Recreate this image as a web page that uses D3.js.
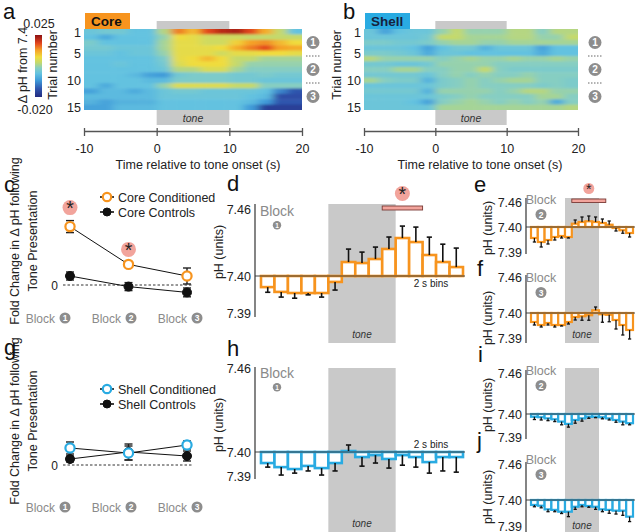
<!DOCTYPE html>
<html>
<head>
<meta charset="utf-8">
<script src="https://cdn.jsdelivr.net/npm/d3@7"></script>
<style>
  body { margin: 0; background: #fff; }
  svg { font-family: "Liberation Sans", Arial, Helvetica, sans-serif; }
</style>
</head>
<body>
<svg id="fig" width="640" height="532"></svg>
<script>
// ---- data ----
var timeTicks = [-10, 0, 10, 20]
var binStarts = [-10, -8, -6, -4, -2, 0, 2, 4, 6, 8, 10, 12, 14, 16, 18]
var trials = [1, 2, 3, 4, 5, 6, 7, 8, 9, 10, 11, 12, 13, 14, 15]
var trialTicks = [1, 5, 10, 15]
var blocks = ["1", "2", "3"]
var phTicks = [7.39, 7.40, 7.46]

// heatmaps: delta pH from 7.4, in thousandths, one row per trial, one column per 2 s bin
var coreHeat = [
  [-2, -1, -1, -3, -3, 4, 16, 12, 19, 22, 23, 19, 13, 5, -3],
  [-3, -6, -3, -3, -3, 2, 9, 8, 6, 6, 6, 5, 5, 5, 5],
  [0, -3, -3, -3, -3, 3, 8, 8, 6, 6, 10, 14, 15, 12, 9],
  [-1, -1, -2, -2, -2, 3, 8, 8, 8, 9, 13, 16, 19, 14, 13],
  [-2, -2, -3, -2, -2, 2, 8, 8, 8, 6, 8, 8, 9, 9, 8],
  [-3, -3, -3, -3, -3, 0, 8, 9, 12, 9, 5, 5, 3, 3, 3],
  [-3, -3, -2, -3, -3, -1, 7, 9, 9, 9, 5, 2, 2, 2, 2],
  [-3, -3, -3, -3, -3, -2, 4, 4, 7, 7, 3, 1, 1, 1, 1],
  [-3, -3, -3, -4, -7, -8, -1, 0, 0, 0, -1, -1, 0, -1, -1],
  [-3, -3, -3, -3, -4, -4, 0, 0, 0, 0, -1, -1, -2, -2, -2],
  [-3, -6, -3, -3, -3, 2, 7, 7, 7, 7, 5, 5, 1, 1, 1],
  [-7, -4, -4, -6, -4, -2, -1, -1, -2, -2, -2, -2, -3, -10, -14],
  [-4, -4, -4, -4, -4, -2, -2, -2, -2, -2, -2, -3, -4, -15, -15],
  [-5, -7, -5, -5, -5, -3, -3, -3, -3, -3, -3, -4, -8, -14, -14],
  [-7, -7, -4, -4, -4, -3, -3, -3, -3, -3, -3, -8, -17, -17, -17]
]
var shellHeat = [
  [-2, -7, -3, -2, -2, 2, 5, 2, 2, 2, 4, 4, 1, 4, 4],
  [-2, -2, -2, -2, -1, 5, 5, 3, 3, 3, 4, 4, 2, 2, 5],
  [0, 0, -1, -1, 0, 2, 3, 3, 2, 2, 3, 3, 3, 3, 3],
  [-2, -2, -2, -3, -7, -3, -1, -1, -5, -2, -2, -2, -7, -3, -3],
  [0, 0, -1, -2, -6, -2, -2, -3, -3, -3, -3, -3, -6, -3, -3],
  [4, 2, 2, 2, 2, 1, 2, 3, 2, 2, 3, 2, 2, 3, 2],
  [-1, -1, -2, -2, -1, 2, 2, 2, 2, 1, 1, 1, 1, 1, 1],
  [1, 1, 3, 3, 1, 1, 2, 2, 5, 1, 0, 0, 0, 0, 0],
  [-1, -1, -1, -1, -2, 1, 2, 1, 2, 1, 1, 2, 1, 1, 1],
  [3, 1, 0, 0, -5, 0, 1, 2, 1, 2, 3, 3, 1, 1, 0],
  [-2, -2, -2, -2, -2, 0, 1, 2, 1, 1, 1, 1, 0, 1, 0],
  [-1, -1, -1, -1, -5, 2, 2, 2, 2, 1, 2, 4, 4, 2, 2],
  [-2, -2, -2, -2, -2, 0, 1, 2, 1, 1, 1, 1, 3, 3, 1],
  [-2, -2, -2, -3, -7, 1, 2, 3, 2, 1, 2, 1, 2, -6, 1],
  [-2, -2, -2, -2, -2, 3, 3, 3, 3, 3, 3, 3, 3, 3, 4]
]
var heatStops = [-20, -14, -8, -3, 1, 5, 9, 14, 19, 25]
var heatColours = ["#232b80", "#2f55ad", "#3f9bd9", "#63c2e0", "#86cec2", "#c4d96c", "#f0dc3c", "#f5a128", "#e3461f", "#8c1012"]

// fold change per block
var coreCond = [2.92, 1.03, 0.45], coreCondErr = [0.3, 0.1, 0.4]
var coreCtrl = [0.45, -0.08, -0.37], coreCtrlErr = [0.2, 0.2, 0.22]
var coreStar = [true, true, false]
var shellCond = [0.85, 0.6, 1.0], shellCondErr = [0.3, 0.35, 0.2]
var shellCtrl = [0.3, 0.65, 0.45], shellCtrlErr = [0.15, 0.4, 0.25]

// pH per 2 s bin
var coreB1 = [7.3970, 7.3957, 7.3954, 7.3954, 7.3954, 7.3984, 7.4125, 7.4116, 7.4152, 7.4242, 7.4340, 7.4304, 7.4188, 7.4125, 7.4080]
var coreB1Err = [0.0014, 0.0014, 0.0014, 0.0005, 0.0011, 0.0022, 0.0116, 0.0098, 0.0107, 0.0107, 0.0107, 0.0134, 0.0160, 0.0160, 0.0170]
var coreB2 = [7.3956, 7.3940, 7.3948, 7.3960, 7.3964, 7.3960, 7.4079, 7.4120, 7.4137, 7.4120, 7.4096, 7.4055, 7.3996, 7.3987, 7.3976]
var coreB2Err = [0.0016, 0.0020, 0.0016, 0.0012, 0.0008, 0.0004, 0.0089, 0.0120, 0.0127, 0.0120, 0.0096, 0.0089, 0.0012, 0.0012, 0.0016]
var coreB3 = [7.3964, 7.3952, 7.3960, 7.3952, 7.3952, 7.3964, 7.3984, 7.3987, 7.3991, 7.4045, 7.3995, 7.3993, 7.3972, 7.3952, 7.3932]
var coreB3Err = [0.0012, 0.0008, 0.0008, 0.0008, 0.0004, 0.0008, 0.0012, 0.0016, 0.0020, 0.0055, 0.0032, 0.0028, 0.0036, 0.0040, 0.0036]
var shellB1 = [7.3954, 7.3937, 7.3929, 7.3942, 7.3933, 7.3954, 7.4007, 7.3979, 7.3987, 7.3971, 7.3987, 7.3979, 7.3958, 7.3979, 7.3979]
var shellB1Err = [0.0017, 0.0033, 0.0017, 0.0021, 0.0029, 0.0033, 0.0043, 0.0038, 0.0033, 0.0038, 0.0042, 0.0042, 0.0046, 0.0058, 0.0063]
var shellB2 = [7.3988, 7.3986, 7.3981, 7.3977, 7.3967, 7.3957, 7.3974, 7.3981, 7.3988, 7.3988, 7.3986, 7.3981, 7.3974, 7.3967, 7.3960]
var shellB2Err = [0.0012, 0.0012, 0.0010, 0.0010, 0.0014, 0.0014, 0.0014, 0.0012, 0.0007, 0.0004, 0.0007, 0.0007, 0.0010, 0.0014, 0.0007]
var shellB3 = [7.3981, 7.3978, 7.3964, 7.3962, 7.3955, 7.3955, 7.3974, 7.3981, 7.3977, 7.3974, 7.3964, 7.3962, 7.3959, 7.3959, 7.3936]
var shellB3Err = [0.0007, 0.0008, 0.0009, 0.0007, 0.0007, 0.0019, 0.0010, 0.0007, 0.0005, 0.0010, 0.0009, 0.0013, 0.0013, 0.0018, 0.0019]
var sigCoreB1 = [8, 14]
var sigCoreB2 = [2, 12]

// ---- drawing ----
var ORANGE = "#f7941e", BLUE = "#29abe2", TONE = "#c9c9c9", CIRC = "#8d8d8d", PINK = "#f2a49c"
var svg = d3.select("#fig")
var defs = svg.append("defs")
var heatColour = d3.scaleLinear().domain(heatStops).range(heatColours)
var plain = function (d) { return String(d) }

function letter(txt, x, y) {
  svg.append("text").attr("x", x).attr("y", y).attr("font-size", 22).attr("fill", "#111").text(txt)
}

function numCircle(g, x, y, r, n) {
  g.append("circle").attr("cx", x).attr("cy", y).attr("r", r).attr("fill", CIRC)
  g.append("text").attr("x", x).attr("y", y + r * 0.55).attr("text-anchor", "middle")
    .attr("font-size", r * 1.55).attr("font-weight", "bold").attr("fill", "#fff").text(n)
}

function star(g, x, y, r) {
  g.append("circle").attr("cx", x).attr("cy", y).attr("r", r).attr("fill", PINK)
  g.append("text").attr("x", x).attr("y", y + r * 1.05).attr("text-anchor", "middle")
    .attr("font-size", r * 2.6).attr("fill", "#222").text("*")
}

// heatmap panels a and b
function drawHeat(o) {
  var t = d3.scaleLinear().domain([-10, 20]).range([o.x0, o.x1])
  var rows = d3.scaleBand().domain(trials).range([29, 110])
  var g = svg.append("g")

  defs.append("clipPath").attr("id", "clip-" + o.id)
    .append("rect").attr("x", o.x0).attr("y", 29).attr("width", o.x1 - o.x0).attr("height", 81)
  var f = defs.append("filter").attr("id", "blur-" + o.id).attr("filterUnits", "userSpaceOnUse")
    .attr("x", o.x0 - 20).attr("y", 10).attr("width", o.x1 - o.x0 + 40).attr("height", 120)
  f.append("feGaussianBlur").attr("stdDeviation", "4.5 1.1").attr("edgeMode", "duplicate")

  var cells = g.append("g").attr("clip-path", "url(#clip-" + o.id + ")")
    .append("g").attr("filter", "url(#blur-" + o.id + ")")
  o.data.forEach(function (row, ri) {
    row.forEach(function (v, ci) {
      var x0 = t(binStarts[ci]), x1 = t(binStarts[ci] + 2)
      // stretch the outer cells so the blur has no empty edge to pull in
      if (ci === 0) x0 -= 12
      if (ci === row.length - 1) x1 += 12
      var y0 = rows(trials[ri]), h = rows.bandwidth()
      if (ri === 0) { y0 -= 6; h += 6 }
      if (ri === o.data.length - 1) h += 6
      cells.append("rect").attr("x", x0).attr("y", y0)
        .attr("width", x1 - x0 + 0.5).attr("height", h + 0.5)
        .attr("fill", heatColour(v))
    })
  })

  // label box
  g.append("rect").attr("x", o.x0 + 1).attr("y", 13).attr("width", 45).attr("height", 16).attr("fill", o.boxColour)
  g.append("text").attr("x", o.x0 + 7).attr("y", 26).attr("font-size", 13.5).attr("font-weight", "bold")
    .attr("fill", o.textColour).text(o.name)

  // tone bars
  g.append("rect").attr("x", t(0)).attr("y", 21).attr("width", t(10) - t(0)).attr("height", 8).attr("fill", TONE)
  g.append("rect").attr("x", t(0)).attr("y", 110).attr("width", t(10) - t(0)).attr("height", 15).attr("fill", TONE)
  g.append("text").attr("x", (t(0) + t(10)) / 2).attr("y", 121.5).attr("text-anchor", "middle")
    .attr("font-size", 10.5).attr("font-style", "italic").attr("fill", "#333").text("tone")

  // trial ticks
  g.selectAll(".tt").data(trialTicks).enter().append("text")
    .attr("x", o.x0 - 3).attr("y", function (d) { return rows(d) + rows.bandwidth() / 2 + 5 })
    .attr("text-anchor", "end").attr("font-size", 12.5).attr("fill", "#222").text(function (d) { return d })
  g.append("text").attr("transform", "translate(" + o.trialX + ",65) rotate(-90)")
    .attr("text-anchor", "middle").attr("font-size", 12.5).attr("fill", "#222").text("Trial number")

  // time axis
  var ax = g.append("g").attr("transform", "translate(0,131)")
    .call(d3.axisBottom(t).tickValues(timeTicks).tickFormat(plain).tickSize(5).tickSizeOuter(0).tickPadding(8))
  ax.select(".domain").attr("stroke", "#555").attr("stroke-width", 1.3)
  ax.selectAll(".tick line").attr("stroke", "#555").attr("stroke-width", 1.3).attr("y1", -3)
  ax.selectAll(".tick text").attr("font-size", 12.5).attr("fill", "#222").attr("font-family", null)
  g.append("text").attr("x", o.titleX).attr("y", 169).attr("text-anchor", "middle")
    .attr("font-size", 12.5).attr("fill", "#222").text("Time relative to tone onset (s)")

  // block markers on the right
  var blockRows = [[1, 5], [6, 10], [11, 15]]
  blockRows.forEach(function (b, i) {
    var cy = (rows(b[0]) + rows(b[1]) + rows.bandwidth()) / 2
    numCircle(g, o.circX, cy, 6.5, blocks[i])
  })
  ;[6, 11].forEach(function (tr) {
    g.append("line").attr("x1", o.circX - 7).attr("x2", o.circX + 8)
      .attr("y1", rows(tr)).attr("y2", rows(tr))
      .attr("stroke", "#666").attr("stroke-dasharray", "1.5,1.5")
  })
}

drawHeat({ id: "core", data: coreHeat, x0: 84, x1: 302, name: "Core", boxColour: ORANGE, textColour: "#111",
  trialX: 57, titleX: 198, circX: 313 })
drawHeat({ id: "shell", data: shellHeat, x0: 364, x1: 578, name: "Shell", boxColour: BLUE, textColour: "#16233f",
  trialX: 341, titleX: 480, circX: 595 })

// colour bar
var grad = defs.append("linearGradient").attr("id", "cbar").attr("x1", 0).attr("y1", 1).attr("x2", 0).attr("y2", 0)
heatStops.forEach(function (s, i) {
  grad.append("stop").attr("offset", (s - heatStops[0]) / (heatStops[heatStops.length - 1] - heatStops[0]))
    .attr("stop-color", heatColours[i])
})
svg.append("rect").attr("x", 35).attr("y", 35).attr("width", 7).attr("height", 62).attr("fill", "url(#cbar)")
svg.append("text").attr("x", 39).attr("y", 28).attr("text-anchor", "middle").attr("font-size", 12.5).attr("fill", "#222").text("0.025")
svg.append("text").attr("x", 35).attr("y", 114).attr("text-anchor", "middle").attr("font-size", 12.5).attr("fill", "#222").text("-0.020")
svg.append("text").attr("transform", "translate(27,65) rotate(-90)").attr("text-anchor", "middle")
  .attr("font-size", 12.5).attr("fill", "#222").text("Δ pH from 7.4")

letter("a", 3, 19)
letter("b", 343, 19)

// fold change panels c and g
function drawFold(o) {
  var g = svg.append("g")
  var x = d3.scalePoint().domain(blocks).range([70, 187])
  var xl = d3.scalePoint().domain(blocks).range([51, 183])
  var y = d3.scaleLinear().domain([-1, 4]).range([o.zeroY + 20, o.zeroY - 80])

  g.append("line").attr("x1", 63).attr("x2", 193).attr("y1", y(0)).attr("y2", y(0))
    .attr("stroke", "#333").attr("stroke-dasharray", "2.5,2")
  g.append("text").attr("x", 58).attr("y", y(0) + 4.5).attr("text-anchor", "end").attr("font-size", 12).attr("fill", "#222").text("0")

  var yt = o.zeroY - 44
  g.append("text").attr("transform", "translate(19," + yt + ") rotate(-90)").attr("text-anchor", "middle")
    .attr("font-size", 12.5).attr("fill", "#222").text("Fold Change in Δ pH following")
  g.append("text").attr("transform", "translate(37," + yt + ") rotate(-90)").attr("text-anchor", "middle")
    .attr("font-size", 12.5).attr("fill", "#222").text("Tone Presentation")

  var line = d3.line().x(function (d, i) { return x(blocks[i]) }).y(function (d) { return y(d) })
  var series = [
    { v: o.ctrl, e: o.ctrlErr, fill: "#111", stroke: "#111", r: 4.5, sw: 1 },
    { v: o.cond, e: o.condErr, fill: "#fff", stroke: o.colour, r: 4.6, sw: 2.2 }
  ]
  series.forEach(function (s) {
    g.append("path").datum(s.v).attr("d", line).attr("fill", "none").attr("stroke", "#111").attr("stroke-width", 1)
  })
  series.forEach(function (s) {
    s.v.forEach(function (v, i) {
      var cx = x(blocks[i])
      g.append("line").attr("x1", cx).attr("x2", cx).attr("y1", y(v - s.e[i])).attr("y2", y(v + s.e[i]))
        .attr("stroke", "#222").attr("stroke-width", 1.4)
      ;[v - s.e[i], v + s.e[i]].forEach(function (w) {
        g.append("line").attr("x1", cx - 4).attr("x2", cx + 4).attr("y1", y(w)).attr("y2", y(w))
          .attr("stroke", "#222").attr("stroke-width", 1.4)
      })
    })
  })
  series.forEach(function (s) {
    s.v.forEach(function (v, i) {
      g.append("circle").attr("cx", x(blocks[i])).attr("cy", y(v)).attr("r", s.r)
        .attr("fill", s.fill).attr("stroke", s.stroke).attr("stroke-width", s.sw)
    })
  })
  if (o.star) {
    o.star.forEach(function (on, i) {
      if (on) star(g, x(blocks[i]), y(o.cond[i] + o.condErr[i]) - 13, 7.5)
    })
  }

  // legend
  var legend = [
    { label: o.name + " Conditioned", fill: "#fff", stroke: o.colour, sw: 2.2, r: 4.2 },
    { label: o.name + " Controls", fill: "#111", stroke: "#111", sw: 1, r: 4 }
  ]
  legend.forEach(function (l, i) {
    var ly = o.legendY + i * 15
    g.append("line").attr("x1", 100).attr("x2", 114).attr("y1", ly).attr("y2", ly).attr("stroke", "#111").attr("stroke-width", 1.6)
    g.append("circle").attr("cx", 107).attr("cy", ly).attr("r", l.r).attr("fill", l.fill).attr("stroke", l.stroke).attr("stroke-width", l.sw)
    g.append("text").attr("x", 118).attr("y", ly + 4.5).attr("font-size", 12.5).attr("fill", "#222").text(l.label)
  })

  // block labels
  blocks.forEach(function (b) {
    var cx = xl(b)
    g.append("text").attr("x", cx + 4).attr("y", o.blockY + 4.5).attr("text-anchor", "end")
      .attr("font-size", 12).attr("fill", "#8a8a8a").text("Block")
    numCircle(g, cx + 14, o.blockY, 5.5, b)
  })
}

drawFold({ name: "Core", colour: ORANGE, cond: coreCond, condErr: coreCondErr, ctrl: coreCtrl, ctrlErr: coreCtrlErr,
  star: coreStar, zeroY: 285, legendY: 197, blockY: 318 })
drawFold({ name: "Shell", colour: BLUE, cond: shellCond, condErr: shellCondErr, ctrl: shellCtrl, ctrlErr: shellCtrlErr,
  star: null, zeroY: 465, legendY: 389, blockY: 507 })

letter("c", 4, 192)
letter("g", 4, 355)

// pH bar panels d, e, f, h, i, j
function drawBars(o) {
  var g = svg.append("g")
  var t = d3.scaleLinear().domain([-10, 20]).range(o.xr)
  var y = d3.scaleLinear().domain(phTicks).range(o.yr)
  var base = y(7.40)
  var bw = t(2) - t(0)

  g.selectAll(".bar").data(o.values).enter().append("rect")
    .attr("x", function (d, i) { return t(binStarts[i]) })
    .attr("y", function (d) { return Math.min(y(d), base) })
    .attr("width", bw)
    .attr("height", function (d) { return Math.abs(y(d) - base) })
    .attr("fill", "#fff").attr("stroke", o.colour).attr("stroke-width", o.sw)

  o.values.forEach(function (v, i) {
    var cx = t(binStarts[i] + 1)
    var tip = v >= 7.40 ? y(v + o.errs[i]) : y(v - o.errs[i])
    g.append("line").attr("x1", cx).attr("x2", cx).attr("y1", y(v)).attr("y2", tip)
      .attr("stroke", "#111").attr("stroke-width", o.ew)
    g.append("line").attr("x1", cx - o.cap).attr("x2", cx + o.cap).attr("y1", tip).attr("y2", tip)
      .attr("stroke", "#111").attr("stroke-width", o.ew)
  })

  g.append("line").attr("x1", o.axisX).attr("x2", t(20) + 2).attr("y1", base).attr("y2", base)
    .attr("stroke", "#444").attr("stroke-width", 1.2)
  g.append("line").attr("x1", o.axisX).attr("x2", o.axisX).attr("y1", o.top).attr("y2", o.bottom)
    .attr("stroke", "#333").attr("stroke-width", 1.2)
  var ax = g.append("g").attr("transform", "translate(" + (o.axisX - 2) + ",0)")
    .call(d3.axisLeft(y).tickValues(phTicks).tickSize(0).tickPadding(2).tickFormat(d3.format(".2f")))
  ax.select(".domain").remove()
  ax.selectAll(".tick text").attr("font-size", 12.5).attr("fill", "#222").attr("font-family", null)

  g.append("text").attr("transform", "translate(" + o.phX + "," + o.phY + ") rotate(-90)").attr("text-anchor", "middle")
    .attr("font-size", 12.5).attr("fill", "#222").text("pH (units)")

  g.append("text").attr("x", o.blockX).attr("y", o.blockY).attr("text-anchor", "middle")
    .attr("font-size", o.blockFs).attr("fill", "#8a8a8a").text("Block")
  numCircle(g, o.blockX, o.blockY + o.blockR + 5, o.blockR, o.block)

  if (o.binsY) {
    g.append("text").attr("x", 431).attr("y", o.binsY).attr("text-anchor", "middle")
      .attr("font-size", 10).attr("fill", "#222").text("2 s bins")
  }
  if (o.sig) {
    g.append("rect").attr("x", t(o.sig[0])).attr("y", o.sigY).attr("width", t(o.sig[1]) - t(o.sig[0]))
      .attr("height", o.sigH).attr("fill", PINK).attr("stroke", "#7a3a35").attr("stroke-width", 0.9)
    star(g, (t(o.sig[0]) + t(o.sig[1])) / 2, o.sigY - o.starR - 5, o.starR)
  }
}

function toneBand(xr, y0, y1, labelY) {
  var t = d3.scaleLinear().domain([-10, 20]).range(xr)
  svg.append("rect").attr("x", t(0)).attr("y", y0).attr("width", t(10) - t(0)).attr("height", y1 - y0).attr("fill", TONE)
  svg.append("text").attr("x", (t(0) + t(10)) / 2).attr("y", labelY).attr("text-anchor", "middle")
    .attr("font-size", 10).attr("font-style", "italic").attr("fill", "#333").text("tone")
}

var bigX = [261, 463], smallX = [531, 633]
toneBand(bigX, 204, 343, 338)
toneBand(bigX, 368, 532, 527)
toneBand(smallX, 198, 343, 338)
toneBand(smallX, 368, 532, 529)

var big = { xr: bigX, axisX: 255, sw: 2.6, ew: 1.6, cap: 2.6, blockX: 277, blockFs: 14, blockR: 4.2, phX: 223 }
var small = { xr: smallX, axisX: 526, sw: 2.2, ew: 1.3, cap: 1.6, blockX: 541, blockFs: 12.5, blockR: 5.5, phX: 492 }

drawBars(Object.assign({}, big, { values: coreB1, errs: coreB1Err, colour: ORANGE, yr: [313, 276, 209], top: 204, bottom: 317,
  phY: 252, blockY: 216, block: "1", binsY: 287, sig: sigCoreB1, sigY: 206, sigH: 4, starR: 7.5 }))
drawBars(Object.assign({}, big, { values: shellB1, errs: shellB1Err, colour: BLUE, yr: [476, 452, 368], top: 367, bottom: 479,
  phY: 425, blockY: 378, block: "1", binsY: 448 }))
drawBars(Object.assign({}, small, { values: coreB2, errs: coreB2Err, colour: ORANGE, yr: [252, 227, 202], top: 198, bottom: 254,
  phY: 228, blockY: 204, block: "2", sig: sigCoreB2, sigY: 199, sigH: 3.5, starR: 5.5 }))
drawBars(Object.assign({}, small, { values: coreB3, errs: coreB3Err, colour: ORANGE, yr: [338, 313, 277], top: 275, bottom: 343,
  phY: 318, blockY: 282, block: "3" }))
drawBars(Object.assign({}, small, { values: shellB2, errs: shellB2Err, colour: BLUE, yr: [437, 414, 373], top: 370, bottom: 439,
  phY: 405, blockY: 375, block: "2" }))
drawBars(Object.assign({}, small, { values: shellB3, errs: shellB3Err, colour: BLUE, yr: [526, 500, 464], top: 462, bottom: 532,
  phY: 497, blockY: 464, block: "3" }))

letter("d", 227, 191)
letter("h", 227, 356)
letter("e", 474, 192)
letter("f", 477, 276)
letter("i", 478, 362)
letter("j", 477, 448)
</script>
</body>
</html>
